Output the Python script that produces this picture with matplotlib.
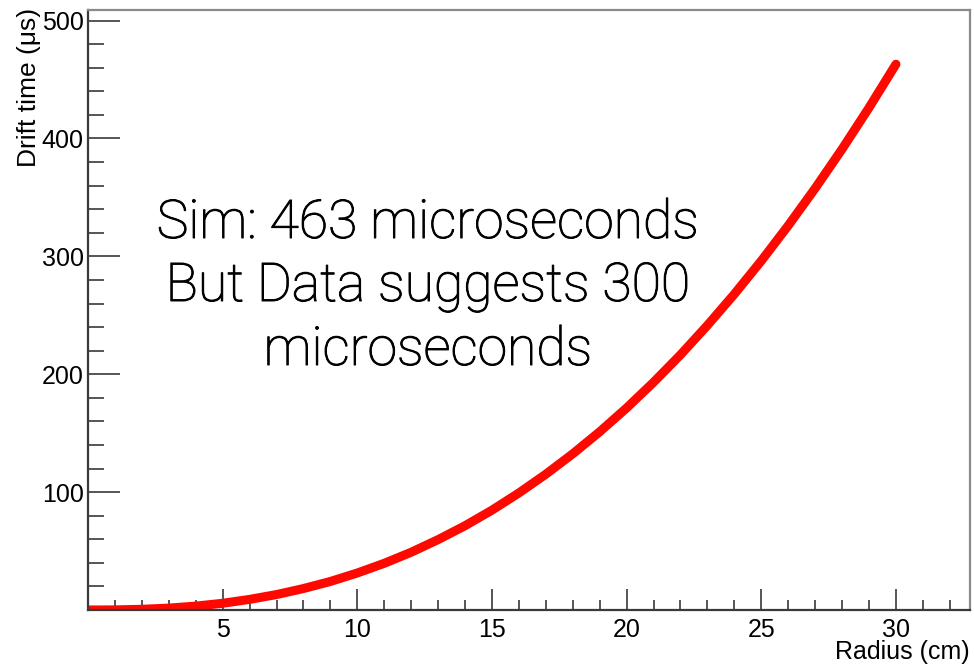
import matplotlib.pyplot as plt
import matplotlib.patheffects as pe

# drift time vs radius, read at 1 cm steps
radius = [0, 1, 2, 3, 4, 5, 6, 7, 8, 9, 10, 11, 12, 13, 14, 15,
          16, 17, 18, 19, 20, 21, 22, 23, 24, 25, 26, 27, 28, 29, 30]
drift_us = [0, 0.1, 0.6, 1.6, 3.3, 5.7, 9.0, 13.1, 18.2, 24.2, 31.4,
            39.6, 49.0, 59.7, 71.5, 84.7, 99.3, 115.2, 132.5, 151.2,
            171.4, 193.2, 216.5, 241.5, 268.0, 296.2, 326.1, 357.7,
            391.0, 426.1, 463.0]

note_lines = ["Sim: 463 microseconds", "But Data suggests 300", "microseconds"]

plt.rcParams['font.family'] = ['Liberation Sans', 'DejaVu Sans']

fig = plt.figure(figsize=(9.74, 6.64), dpi=100)
ax = fig.add_axes([88 / 974, 1 - 610 / 664, 882 / 974, 600 / 664])

ax.plot(radius, drift_us, color='#ff0800', lw=6.5, solid_capstyle='round',
        solid_joinstyle='round')

ax.set_xlim(0, 32.75)
ax.set_ylim(0, 509)

ax.set_xticks([5, 10, 15, 20, 25, 30])
ax.set_yticks([100, 200, 300, 400, 500])
ax.set_yticks([v for v in range(20, 509, 20) if v % 100], minor=True)
ax.set_xticks([v for v in range(1, 33) if v % 5], minor=True)

ax.tick_params(axis='y', which='major', direction='in', length=23, width=1.4,
               color='#555555', labelsize=18, pad=3)
ax.tick_params(axis='y', which='minor', direction='in', length=11.5, width=1.4,
               color='#555555')
ax.tick_params(axis='x', which='major', direction='in', length=15, width=1.4,
               color='#555555', labelsize=18, pad=6)
ax.tick_params(axis='x', which='minor', direction='in', length=7.5, width=1.4,
               color='#555555')

for side in ['left', 'bottom']:
    ax.spines[side].set_color('#3a3a3a')
    ax.spines[side].set_linewidth(1.6)
for side in ['top', 'right']:
    ax.spines[side].set_color('#8a8a8a')
    ax.spines[side].set_linewidth(1.6)

fig.text(17 / 974, 1 - 8 / 664, "Drift time (μs)", rotation=90, ha='left',
         va='top', fontsize=19)
fig.text(970 / 974, 1 - 659 / 664, "Radius (cm)", ha='right', va='baseline',
         fontsize=18)

# light face, thickened a touch with a thin outline
baselines = [238, 301, 365]
for line, yb in zip(note_lines, baselines):
    fig.text(428 / 974, 1 - yb / 664, line, ha='center', va='baseline',
             fontsize=38.5, family=['Roboto', 'DejaVu Sans'], fontweight='light',
             path_effects=[pe.withStroke(linewidth=0.7, foreground='black')])

fig.savefig('out.png', dpi=100)
